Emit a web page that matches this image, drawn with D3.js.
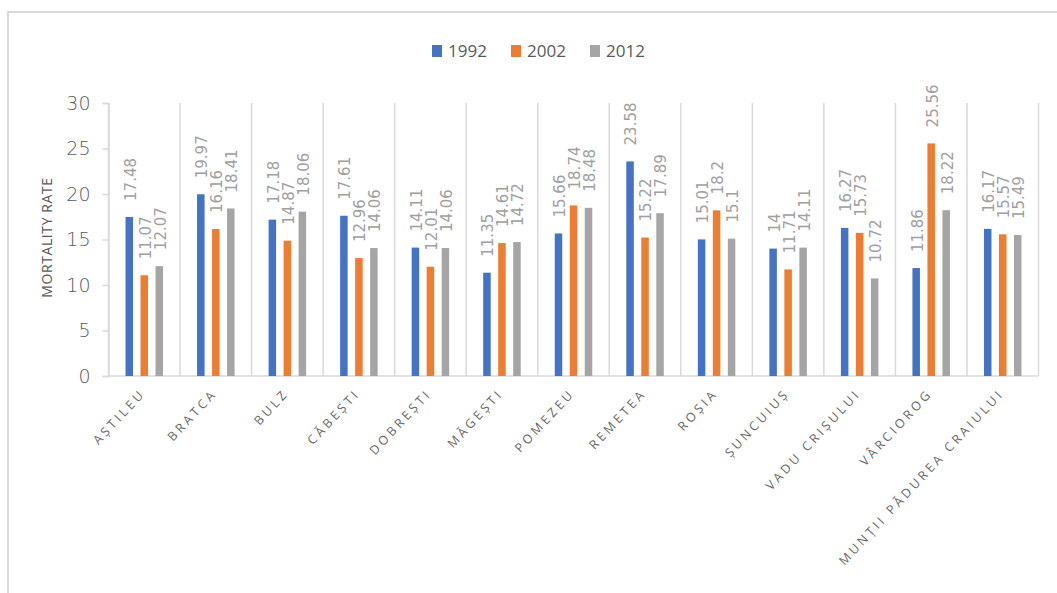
<!DOCTYPE html>
<html>
<head>
<meta charset="utf-8">
<script src="https://cdn.jsdelivr.net/npm/d3@7"></script>
<style>
  html, body { margin: 0; padding: 0; background: #fff; }
  svg { display: block; }
  text { font-family: "DejaVu Sans", "Open Sans", sans-serif; }
</style>
</head>
<body>
<svg id="chart" width="1057" height="593"></svg>
<script>
// Mortality rate by commune, census years
const categories = ["AȘTILEU", "BRATCA", "BULZ", "CĂBEȘTI", "DOBREȘTI", "MĂGEȘTI", "POMEZEU",
  "REMETEA", "ROȘIA", "ȘUNCUIUȘ", "VADU CRIȘULUI", "VÂRCIOROG", "MUNȚII PĂDUREA CRAIULUI"];
const years = ["1992", "2002", "2012"];
const values1992 = [17.48, 19.97, 17.18, 17.61, 14.11, 11.35, 15.66, 23.58, 15.01, 14, 16.27, 11.86, 16.17];
const values2002 = [11.07, 16.16, 14.87, 12.96, 12.01, 14.61, 18.74, 15.22, 18.2, 11.71, 15.73, 25.56, 15.57];
const values2012 = [12.07, 18.41, 18.06, 14.06, 14.06, 14.72, 18.48, 17.89, 15.1, 14.11, 10.72, 18.22, 15.49];
const yTicks = [0, 5, 10, 15, 20, 25, 30];
const yTitle = "MORTALITY RATE";

const seriesValues = [values1992, values2002, values2012];
const colors = ["#4472c4", "#ed7d31", "#a5a5a5"];

const svg = d3.select("#chart");
const W = 1057, H = 593;
const plot = { left: 108.5, right: 1038.5, top: 103, bottom: 376 };
const gridColor = "#d9d9d9";
const textColor = "#595959";

// outer frame
svg.append("rect")
  .attr("x", 8).attr("y", 12)
  .attr("width", W + 20).attr("height", H + 20)
  .attr("fill", "#fff").attr("stroke", gridColor).attr("stroke-width", 2);

const x = d3.scaleBand().domain(categories).range([plot.left, plot.right]).padding(0);
const y = d3.scaleLinear().domain([0, 30]).range([plot.bottom, plot.top]);
const inner = d3.scaleBand().domain(years)
  .range([x.bandwidth() / 2 - 18.75, x.bandwidth() / 2 + 18.75])
  .paddingInner(0.5).paddingOuter(0);

// vertical separators between categories
const bounds = categories.map(c => x(c)).concat([plot.right]);
svg.append("g").selectAll("line").data(bounds).join("line")
  .attr("x1", d => d).attr("x2", d => d)
  .attr("y1", plot.top).attr("y2", plot.bottom)
  .attr("stroke", gridColor).attr("stroke-width", 1.5);

// y axis
const yAxis = d3.axisLeft(y).tickValues(yTicks).tickSize(6).tickPadding(12);
const gy = svg.append("g").attr("transform", `translate(${plot.left},0)`).call(yAxis);
gy.select(".domain").attr("stroke", gridColor).attr("stroke-width", 1.5);
gy.selectAll(".tick line").attr("stroke", gridColor).attr("stroke-width", 1.5);
gy.selectAll(".tick text")
  .attr("fill", textColor)
  .style("font-size", "19px")
  .style("font-family", "'DejaVu Sans', sans-serif")
  .style("font-weight", "300");

// baseline
svg.append("line")
  .attr("x1", plot.left).attr("x2", plot.right)
  .attr("y1", plot.bottom).attr("y2", plot.bottom)
  .attr("stroke", gridColor).attr("stroke-width", 1.5);

// y title
svg.append("text")
  .attr("transform", `translate(52,${(plot.top + plot.bottom) / 2 - 2}) rotate(-90)`)
  .attr("text-anchor", "middle")
  .attr("fill", textColor)
  .style("font-size", "14px")
  .style("letter-spacing", "0.6px")
  .style("font-family", "'Open Sans', sans-serif")
  .text(yTitle);

// bars and value labels
const rows = [];
categories.forEach((c, i) => {
  years.forEach((yr, s) => rows.push({ cat: c, year: yr, s, v: seriesValues[s][i] }));
});

svg.append("g").selectAll("rect").data(rows).join("rect")
  .attr("x", d => x(d.cat) + inner(d.year))
  .attr("y", d => y(d.v))
  .attr("width", inner.bandwidth())
  .attr("height", d => y(0) - y(d.v))
  .attr("fill", d => colors[d.s]);

svg.append("g").selectAll("text").data(rows).join("text")
  .attr("transform", d => `translate(${x(d.cat) + inner(d.year) + inner.bandwidth() / 2 + 1},${y(d.v) - 16}) rotate(-90)`)
  .attr("dy", "0.36em")
  .attr("text-anchor", "start")
  .attr("fill", "#a0a0a0")
  .style("font-size", "15px")
  .text(d => String(d.v));

// category labels
svg.append("g").selectAll("text").data(categories).join("text")
  .attr("transform", d => `translate(${x(d) + x.bandwidth() / 2 + 2},${plot.bottom + 18}) rotate(-47)`)
  .attr("text-anchor", "end")
  .attr("fill", "#666")
  .style("font-size", "12.5px")
  .style("font-family", "'Open Sans', sans-serif")
  .style("letter-spacing", "3.2px")
  .text(d => d);

// legend
const legend = svg.append("g").attr("transform", "translate(432,51)");
const legendX = [0, 79, 158];
years.forEach((yr, s) => {
  const g = legend.append("g").attr("transform", `translate(${legendX[s]},0)`);
  g.append("rect").attr("x", 0).attr("y", -6).attr("width", 10).attr("height", 12).attr("fill", colors[s]);
  g.append("text").attr("x", 16).attr("dy", "0.36em").attr("fill", textColor)
    .style("font-size", "17px").style("font-family", "'Open Sans', sans-serif").text(yr);
});
</script>
</body>
</html>
